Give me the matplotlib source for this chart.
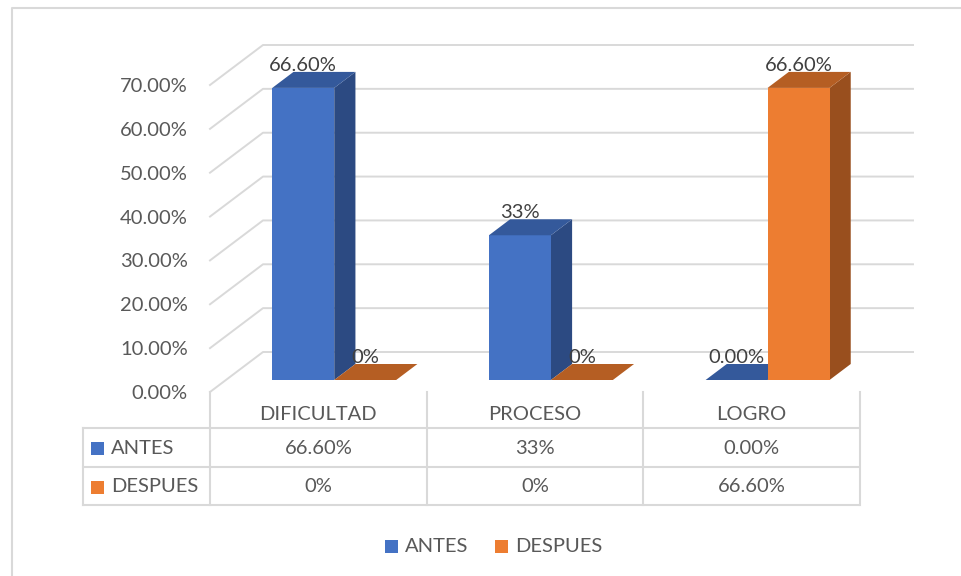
import numpy as np
import matplotlib.pyplot as plt
from matplotlib.patches import Polygon, Rectangle
from matplotlib.transforms import blended_transform_factory

categories = ["DIFICULTAD", "PROCESO", "LOGRO"]
series_names = ["ANTES", "DESPUES"]
antes = [66.6, 33.0, 0.0]
despues = [0.0, 0.0, 66.6]
antes_labels = ["66.60%", "33%", "0.00%"]
despues_labels = ["0%", "0%", "66.60%"]
y_ticks = [0, 10, 20, 30, 40, 50, 60, 70]

W, H = 961, 576
plt.rcParams['font.family'] = ['Lato', 'DejaVu Sans']
txt = '#595959'
lab = '#404040'
grid = '#D9D9D9'
fs = 14.5

# front, side, top
colors = {
    "ANTES": ('#4472C4', '#2C4A82', '#34599B'),
    "DESPUES": ('#ED7D31', '#994F1E', '#B55E23'),
}

fig = plt.figure(figsize=(W / 100, H / 100), dpi=100)

# pixel overlay for frame, table and legend
ov = fig.add_axes([0, 0, 1, 1])
ov.set_xlim(0, W)
ov.set_ylim(H, 0)
ov.axis('off')

ax = fig.add_axes([210 / W, (H - 392) / H, 650 / W, 307 / H])
ax.set_xlim(0, len(categories))
ax.set_ylim(0, 70)
for s in ax.spines.values():
    s.set_visible(False)
ax.set_xticks([])
ax.set_yticks(y_ticks)
ax.set_yticklabels(['%.2f%%' % v for v in y_ticks], fontsize=fs, color=txt)
ax.tick_params(axis='y', length=0, pad=16)
ax.patch.set_alpha(0)

# depth of the 3d box in data units
dx = 53 / 650 * 3
dy = 40 / 307 * 70
f0, f1 = 0.3, 0.7

# walls: back gridlines + diagonal lines on the side
for v in y_ticks:
    ax.plot([0, dx, len(categories) + dx], [v, v + dy, v + dy],
            color=grid, lw=1.4, clip_on=False, zorder=1)

bw = 0.286


def draw_bar(x0, v, cols):
    front, side, top = cols
    xa, xb = x0 + f0 * dx, x0 + bw + f0 * dx
    y0, y1 = f0 * dy, v + f0 * dy
    ddx, ddy = (f1 - f0) * dx, (f1 - f0) * dy
    if v > 0:
        ax.add_patch(Polygon([(xb, y0), (xb + ddx, y0 + ddy), (xb + ddx, y1 + ddy), (xb, y1)],
                             closed=True, fc=side, ec='none', clip_on=False, zorder=3))
        ax.add_patch(Rectangle((xa, y0), bw, v, fc=front, ec='none', clip_on=False, zorder=3))
    ax.add_patch(Polygon([(xa, y1), (xb, y1), (xb + ddx, y1 + ddy), (xa + ddx, y1 + ddy)],
                         closed=True, fc=top, ec='none', clip_on=False, zorder=3))


for i in range(len(categories)):
    c = i + 0.5
    for j, (vals, labs) in enumerate([(antes, antes_labels), (despues, despues_labels)]):
        x0 = c - bw + j * bw
        draw_bar(x0, vals[i], colors[series_names[j]])
        ax.text(x0 + bw / 2 + f0 * dx, vals[i] + f1 * dy + 0.3, labs[i],
                ha='center', va='baseline', fontsize=fs, color=lab, zorder=5)

# outer frame
ov.plot([12, 12, W], [H, 8, 8], color=grid, lw=1.5)

# data table
tx = blended_transform_factory(ax.transData, ov.transData)
for k in range(len(categories) + 1):
    ov.plot([k, k], [392, 505], color=grid, lw=1.5, transform=tx)
ov.plot([83, 83], [428, 505], color=grid, lw=1.5)
for yy in [428, 467, 505]:
    ov.plot([83, 859], [yy, yy], color=grid, lw=1.5)

for i, cat in enumerate(categories):
    ov.text(i + 0.5, 415, cat, transform=tx, ha='center', va='center', fontsize=fs, color=txt)
    ov.text(i + 0.5, 448, antes_labels[i], transform=tx, ha='center', va='center', fontsize=fs, color=txt)
    ov.text(i + 0.5, 487, despues_labels[i], transform=tx, ha='center', va='center', fontsize=fs, color=txt)

for j, (name, yy) in enumerate(zip(series_names, [448, 487])):
    ov.add_patch(Rectangle((91, yy - 6.5), 13, 13, fc=colors[name][0], ec='none'))
    ov.text(111, yy, name, ha='left', va='center', fontsize=fs, color=txt)

# legend
for name, xs in zip(series_names, [385, 495]):
    ov.add_patch(Rectangle((xs, 539.5), 13, 13, fc=colors[name][0], ec='none'))
    ov.text(xs + 20, 546, name, ha='left', va='center', fontsize=fs, color=txt)

fig.savefig('out.png', dpi=100, facecolor='white')
